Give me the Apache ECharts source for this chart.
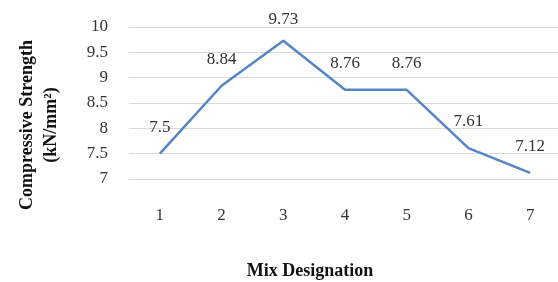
<!DOCTYPE html>
<html>
<head>
<meta charset="utf-8">
<script src="https://cdn.jsdelivr.net/npm/echarts@6/dist/echarts.min.js"></script>
<style>
  html, body { margin: 0; padding: 0; background: #fff; }
  #chart { width: 558px; height: 282px; }
</style>
</head>
<body>
<div id="chart"></div>
<script>
var mixes = ['1', '2', '3', '4', '5', '6', '7'];
var strength = [7.5, 8.84, 9.73, 8.76, 8.76, 7.61, 7.12];
var yTicks = [7, 7.5, 8, 8.5, 9, 9.5, 10];

var chart = echarts.init(document.getElementById('chart'));
var serif = '"Liberation Serif", "DejaVu Serif", serif';

chart.setOption({
  animation: false,
  grid: { left: 129, top: 27, width: 432, height: 152, outerBoundsMode: 'none', containLabel: false },
  xAxis: {
    type: 'category',
    data: mixes,
    boundaryGap: true,
    axisLine: { show: false },
    axisTick: { show: false },
    axisLabel: { color: '#333', fontFamily: serif, fontSize: 17, margin: 28 },
    name: 'Mix Designation',
    nameLocation: 'middle',
    nameGap: 83,
    // title sits left of the plot centre in the original
    nameTextStyle: { color: '#111', fontFamily: serif, fontSize: 18, fontWeight: 'bold', padding: [0, 70, 0, 0] }
  },
  yAxis: {
    type: 'value',
    min: yTicks[0],
    max: yTicks[yTicks.length - 1],
    interval: 0.5,
    axisLine: { show: false },
    axisTick: { show: false },
    splitLine: { lineStyle: { color: '#d9d9d9', width: 1 } },
    axisLabel: { color: '#333', fontFamily: serif, fontSize: 17, margin: 21 },
    name: 'Compressive Strength\n(kN/mm²)',
    nameLocation: 'middle',
    nameGap: 66,
    nameRotate: 90,
    // shifted down a bit, like the original
    nameTextStyle: { color: '#111', fontFamily: serif, fontSize: 18, fontWeight: 'bold', lineHeight: 24, padding: [0, 44, 0, 0] }
  },
  series: [{
    type: 'line',
    data: strength.map(function (v, i) {
      return i === 2 ? { value: v, label: { distance: 13 } } : v;
    }),
    symbol: 'circle',
    symbolSize: 0,
    showSymbol: true,
    lineStyle: { color: '#5585c5', width: 2.5 },
    itemStyle: { color: '#5585c5' },
    label: {
      show: true,
      position: 'top',
      distance: 18,
      color: '#333',
      fontFamily: serif,
      fontSize: 17
    }
  }]
});
</script>
</body>
</html>
